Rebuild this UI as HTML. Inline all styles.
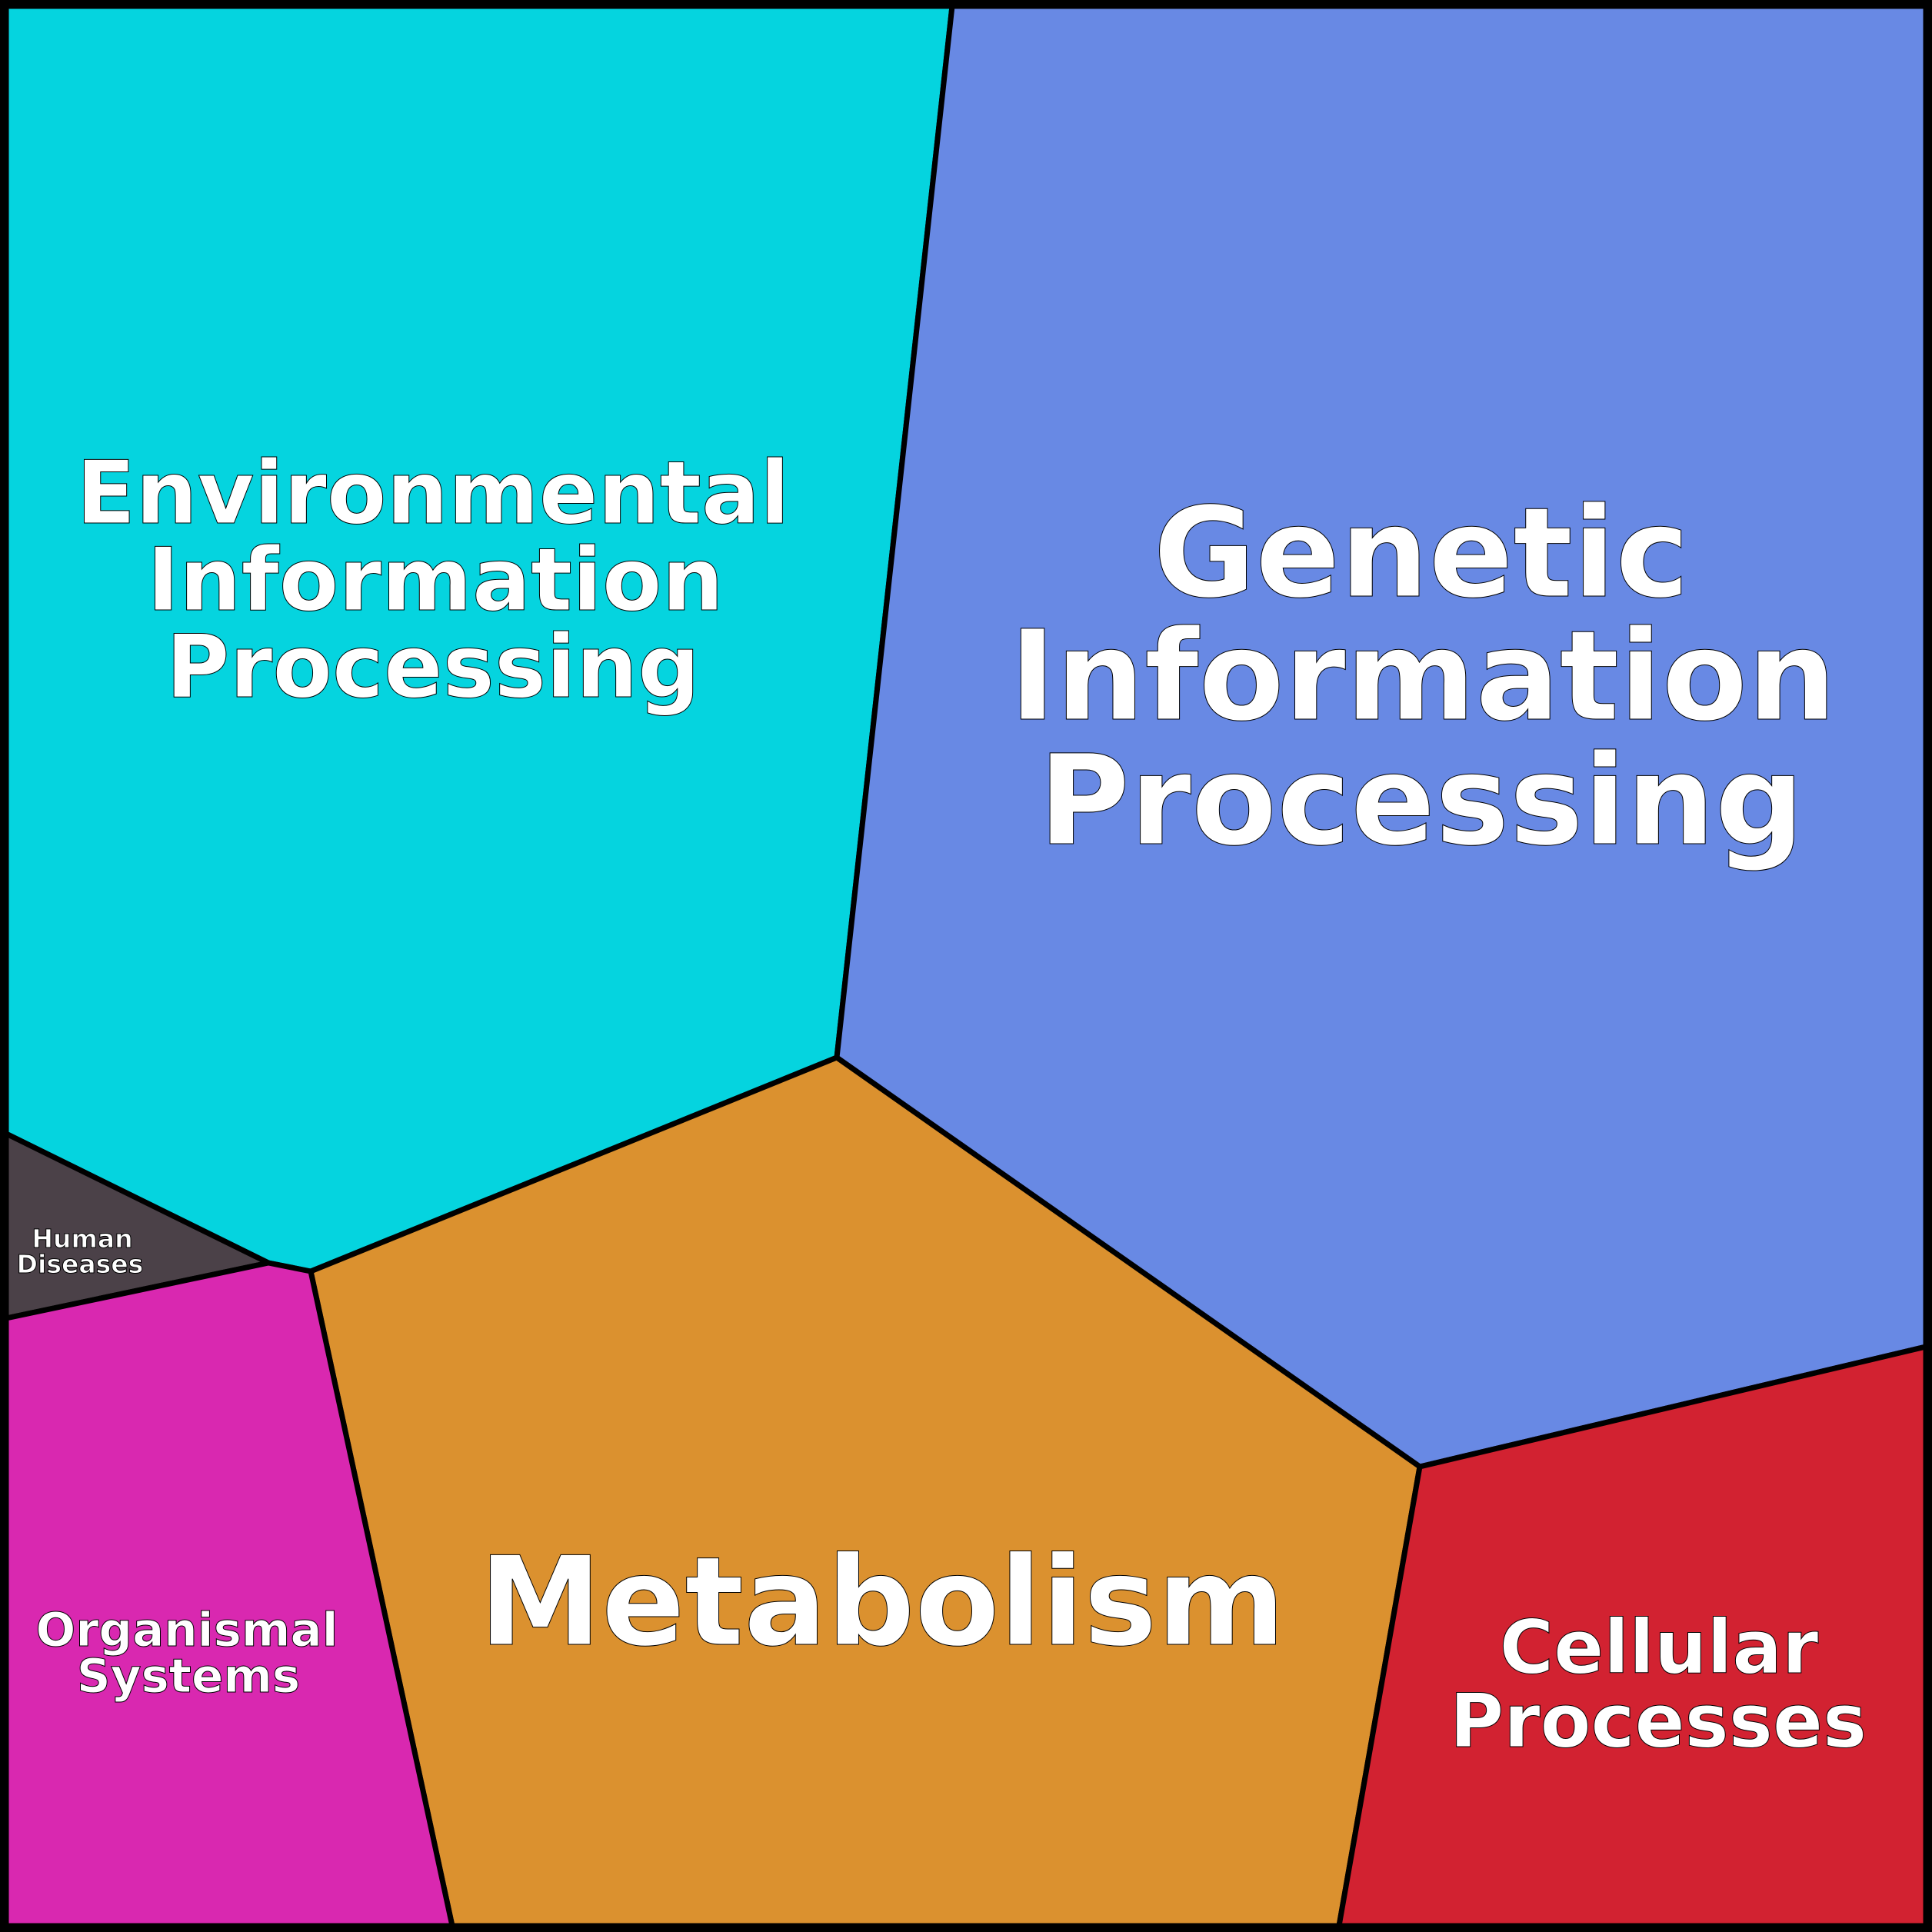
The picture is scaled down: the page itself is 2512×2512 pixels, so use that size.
<!DOCTYPE html>
<html><head><meta charset="utf-8"><style>
html,body{margin:0;padding:0;background:#000}
svg{display:block}
text{font-family:"DejaVu Sans","Liberation Sans",sans-serif;font-weight:bold;fill:#fff;stroke:#000;stroke-width:1;text-anchor:middle}
</style></head><body>
<svg width="2512" height="2512" viewBox="0 0 2512 2512" xmlns="http://www.w3.org/2000/svg">
<g stroke="#000" stroke-width="7" stroke-linejoin="round">
<polygon points="8,8 1238,8 1088,1375 404,1653 349,1642 8,1474" fill="#05d4df"/>
<polygon points="1238,8 2504,8 2504,1751 1846,1907 1088,1375" fill="#6889e4"/>
<polygon points="1088,1375 1846,1907 1741,2504 588,2504 404,1653" fill="#db912f"/>
<polygon points="1846,1907 2504,1751 2504,2504 1741,2504" fill="#d22231"/>
<polygon points="8,1474 349,1642 8,1714" fill="#4b4148"/>
<polygon points="8,1714 349,1642 404,1653 588,2504 8,2504" fill="#d928b0"/>
</g>
<rect x="4" y="4" width="2504" height="2504" fill="none" stroke="#000" stroke-width="9"/>
<g font-size="113"><text x="563" y="680">Environmental</text><text x="566" y="793">Information</text><text x="563" y="906">Processing</text></g>
<g font-size="162"><text x="1848" y="775">Genetic</text><text x="1850" y="935">Information</text><text x="1848" y="1097">Processing</text></g>
<text x="1147" y="2138" font-size="160">Metabolism</text>
<g font-size="96"><text x="2157" y="2175">Cellular</text><text x="2156" y="2271">Processes</text></g>
<g font-size="61"><text x="243" y="2140">Organismal</text><text x="245" y="2200">Systems</text></g>
<g font-size="33" style="stroke-width:0.8"><text x="107" y="1622">Human</text><text x="104" y="1655">Diseases</text></g>
</svg>
</body></html>
